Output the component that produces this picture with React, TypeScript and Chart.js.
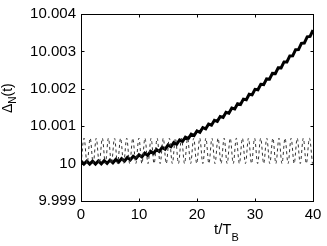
import { useEffect, useRef } from "react";
import { Chart, registerables } from "chart.js";

Chart.register(...registerables);

const xTicks = [0, 10, 20, 30, 40];
const yTicks = [9.999, 10, 10.001, 10.002, 10.003, 10.004];

const solidT = [
  0, 0.5, 1, 1.5, 2, 2.5, 3, 3.5, 4, 4.5, 5, 5.5, 6, 6.5, 7, 7.5, 8, 8.5, 9, 9.5,
  10, 10.5, 11, 11.5, 12, 12.5, 13, 13.5, 14, 14.5, 15, 15.5, 16, 16.5, 17, 17.5, 18, 18.5, 19, 19.5,
  20, 20.5, 21, 21.5, 22, 22.5, 23, 23.5, 24, 24.5, 25, 25.5, 26, 26.5, 27, 27.5, 28, 28.5, 29, 29.5,
  30, 30.5, 31, 31.5, 32, 32.5, 33, 33.5, 34, 34.5, 35, 35.5, 36, 36.5, 37, 37.5, 38, 38.5, 39, 39.5, 40,
];
const solidV = [
  10.00007, 9.999987, 10.000065, 9.999985, 10.000065, 9.999987, 10.00007, 9.999994, 10.000079, 10.000006,
  10.000093, 10.000022, 10.000112, 10.000043, 10.000136, 10.000069, 10.000164, 10.0001, 10.000197, 10.000136,
  10.000235, 10.000176, 10.000278, 10.000221, 10.000325, 10.00027, 10.000377, 10.000325, 10.000434, 10.000384,
  10.000495, 10.000448, 10.000561, 10.000516, 10.000632, 10.000589, 10.000708, 10.000668, 10.000788, 10.00075,
  10.000873, 10.000838, 10.000963, 10.00093, 10.001058, 10.001027, 10.001157, 10.001129, 10.001261, 10.001235,
  10.00137, 10.001346, 10.001484, 10.001462, 10.001602, 10.001583, 10.001725, 10.001708, 10.001853, 10.001838,
  10.001985, 10.001973, 10.002122, 10.002113, 10.002264, 10.002257, 10.002411, 10.002406, 10.002563, 10.00256,
  10.002719, 10.002719, 10.00288, 10.002882, 10.003045, 10.00305, 10.003215, 10.003222, 10.003391, 10.0034,
  10.00357,
];

const dashT = [
  0, 0.53, 1.05, 1.58, 2.1, 2.63, 3.15, 3.68, 4.2, 4.73, 5.25, 5.78, 6.3, 6.83, 7.35, 7.88, 8.4, 8.93, 9.45, 9.98,
  10.5, 11.03, 11.55, 12.08, 12.6, 13.13, 13.65, 14.18, 14.7, 15.23, 15.75, 16.28, 16.8, 17.33, 17.85, 18.38,
  18.9, 19.43, 19.95, 20.48, 21, 21.53, 22.05, 22.58, 23.1, 23.63, 24.15, 24.68, 25.2, 25.73, 26.25, 26.78,
  27.3, 27.83, 28.35, 28.88, 29.4, 29.93, 30.45, 30.98, 31.5, 32.03, 32.55, 33.08, 33.6, 34.13, 34.65, 35.18,
  35.7, 36.23, 36.75, 37.28, 37.8, 38.33, 38.85, 39.38, 39.9,
];
const dashV = [
  10.0, 10.00068, 10.0, 10.00068, 10.0, 10.00068, 10.0, 10.00068, 10.0, 10.00068,
  10.0, 10.00068, 10.0, 10.00068, 10.0, 10.00068, 10.0, 10.00068, 10.0, 10.00068,
  10.0, 10.00068, 10.0, 10.00068, 10.0, 10.00068, 10.0, 10.00068, 10.0, 10.00068,
  10.0, 10.00068, 10.0, 10.00068, 10.0, 10.00068, 10.0, 10.00068, 10.0, 10.00068,
  10.0, 10.00068, 10.0, 10.00068, 10.0, 10.00068, 10.0, 10.00068, 10.0, 10.00068,
  10.0, 10.00068, 10.0, 10.00068, 10.0, 10.00068, 10.0, 10.00068, 10.0, 10.00068,
  10.0, 10.00068, 10.0, 10.00068, 10.0, 10.00068, 10.0, 10.00068, 10.0, 10.00068,
  10.0, 10.00068, 10.0, 10.00068, 10.0, 10.00068, 10.0,
];

const FONT = '"Liberation Sans", Arial, Helvetica, sans-serif';

const framePlugin = {
  id: "frame",
  afterDraw(chart: any) {
    const { ctx, chartArea, scales } = chart;
    const { left, right, top, bottom } = chartArea;
    const L = Math.round(left) + 0.5;
    const R = Math.round(right) + 0.5;
    const T = Math.round(top) + 0.5;
    const B = Math.round(bottom) + 0.5;
    ctx.save();
    ctx.strokeStyle = "#000";
    ctx.lineWidth = 1;
    ctx.strokeRect(L, T, R - L, B - T);
    ctx.beginPath();
    for (const v of xTicks) {
      const px = Math.round(scales.x.getPixelForValue(v)) + 0.5;
      ctx.moveTo(px, B);
      ctx.lineTo(px, B - 3);
      ctx.moveTo(px, T);
      ctx.lineTo(px, T + 3);
    }
    for (const v of yTicks) {
      const py = Math.round(scales.y.getPixelForValue(v)) + 0.5;
      ctx.moveTo(L, py);
      ctx.lineTo(L + 3, py);
      ctx.moveTo(R, py);
      ctx.lineTo(R - 3, py);
    }
    ctx.stroke();

    ctx.fillStyle = "#000";
    ctx.textAlign = "left";
    ctx.textBaseline = "alphabetic";
    ctx.font = `15px ${FONT}`;
    const xMain = "t/T";
    ctx.fillText(xMain, 214, 234);
    const wx = ctx.measureText(xMain).width;
    ctx.font = `11px ${FONT}`;
    ctx.fillText("B", 214 + wx, 241);

    ctx.translate(12, 113);
    ctx.rotate(-Math.PI / 2);
    ctx.font = `14px ${FONT}`;
    ctx.fillText("Δ", 0, 0);
    const wd = ctx.measureText("Δ").width;
    ctx.font = `10px ${FONT}`;
    ctx.fillText("N", wd, 4);
    const wn = ctx.measureText("N").width;
    ctx.font = `14px ${FONT}`;
    ctx.fillText("(t)", wd + wn, 0);
    ctx.restore();
  },
};

export default function App() {
  const ref = useRef<HTMLCanvasElement | null>(null);

  useEffect(() => {
    document.body.style.margin = "0";
    const canvas = ref.current;
    if (!canvas) return;
    const chart = new Chart(canvas, {
      type: "line",
      data: {
        datasets: [
          {
            data: dashT.map((t, i) => ({ x: t, y: dashV[i] })),
            borderColor: "#333",
            borderWidth: 1,
            borderDash: [3, 3],
            pointRadius: 0,
            tension: 0.35,
            fill: false,
          },
          {
            data: solidT.map((t, i) => ({ x: t, y: solidV[i] })),
            borderColor: "#000",
            borderWidth: 3,
            pointRadius: 0,
            tension: 0,
            fill: false,
          },
        ],
      },
      options: {
        animation: false,
        responsive: false,
        maintainAspectRatio: false,
        events: [],
        layout: { padding: { left: 0, top: 12, right: 14, bottom: 0 } },
        plugins: {
          legend: { display: false },
          tooltip: { enabled: false },
          title: { display: false },
        },
        scales: {
          x: {
            type: "linear",
            min: 0,
            max: 40,
            grid: { display: false, drawTicks: false },
            border: { display: false },
            afterBuildTicks: (scale: any) => {
              scale.ticks = xTicks.map((v) => ({ value: v }));
            },
            afterFit: (scale: any) => {
              scale.height = 45;
            },
            ticks: {
              padding: 5,
              color: "#000",
              maxRotation: 0,
              font: { family: FONT, size: 15 },
              callback: (v: any) => String(v),
            },
          },
          y: {
            type: "linear",
            min: 9.999,
            max: 10.004,
            grid: { display: false, drawTicks: false },
            border: { display: false },
            afterBuildTicks: (scale: any) => {
              scale.ticks = yTicks.map((v) => ({ value: v }));
            },
            afterFit: (scale: any) => {
              scale.width = 81;
            },
            ticks: {
              padding: 5,
              color: "#000",
              font: { family: FONT, size: 15 },
              callback: (v: any) => String(Number(Number(v).toFixed(3))),
            },
          },
        },
      },
      plugins: [framePlugin],
    });
    return () => chart.destroy();
  }, []);

  return (
    <div style={{ width: 327, height: 246, position: "relative" }}>
      <canvas ref={ref} width={327} height={246} style={{ display: "block" }} />
    </div>
  );
}
